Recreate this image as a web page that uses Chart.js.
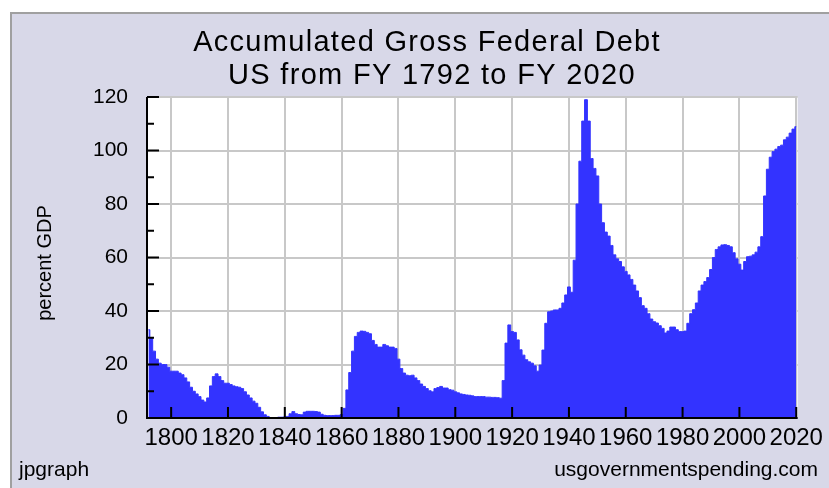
<!DOCTYPE html>
<html>
<head>
<meta charset="utf-8">
<title>Accumulated Gross Federal Debt</title>
<script src="https://cdn.jsdelivr.net/npm/chart.js@4.4.1/dist/chart.umd.min.js"></script>
<style>
  html, body { margin: 0; padding: 0; background: #fff; }
  #wrap { width: 829px; height: 488px; position: relative; }
</style>
</head>
<body>
<div id="wrap"><canvas id="debtChart"></canvas></div>
<script>
// Accumulated gross federal debt, percent of GDP, one value per fiscal year

const firstYear = 1792;

const debtPct = [
  33, 30, 25, 22, 20.5, 20, 20, 19,                          // 1792-1799
  17.5, 17.5, 17.5, 16.8, 16.2, 15, 13.5, 11.5, 10, 9,       // 1800s
  8, 6.7, 6, 7.5, 12, 15.5, 16.5, 15.5, 14, 13,              // 1810s
  13, 12.5, 12, 11.7, 11.5, 11, 9.8, 8.6, 7.5, 6.3,          // 1820s
  5.5, 4, 2.3, 1.2, 0.6, 0.1, 0.1, 0.1, 0.3, 0.3,            // 1830s
  0.4, 0.6, 1.6, 2.4, 1.6, 1.3, 1.2, 2.2, 2.5, 2.5,          // 1840s
  2.5, 2.4, 2.2, 1.4, 1.0, 0.9, 0.9, 0.9, 1.0, 1.0,          // 1850s
  1.3, 3.6, 10.5, 17, 25, 30.5, 32, 32.5, 32.4, 32,          // 1860s
  31.5, 29, 27.5, 26.5, 26.5, 27.5, 27, 26.5, 26.5, 26,      // 1870s
  22, 18.5, 16.8, 16, 15.8, 16, 15, 14, 12.7, 11.8,          // 1880s
  11, 10.2, 9.8, 11, 11.4, 11.8, 11.2, 11.2, 10.6, 10.4,     // 1890s
  9.8, 9.4, 9, 8.8, 8.6, 8.5, 8.3, 8, 8, 8,                  // 1900s
  8, 7.8, 7.8, 7.7, 7.7, 7.6, 7.4, 14, 28, 34.8,             // 1910s
  32.3, 32, 29.2, 25.5, 23.5, 21.8, 21, 20.5, 19.5, 17.5,    // 1920s
  19.8, 25.4, 35.4, 39.7, 40, 40.4, 40.4, 41, 43, 46,        // 1930s
  49, 47, 59, 80, 96, 111, 119, 111, 97, 93.3,               // 1940s
  90.5, 80, 73, 69.5, 68, 64.5, 61, 59.5, 58.5, 56.5,        // 1950s
  54.8, 53.5, 51.8, 49.7, 47.5, 45, 42, 41, 39, 37,          // 1960s
  36, 35.5, 34.5, 33.5, 31.8, 32.5, 34, 34, 33, 32.3,        // 1970s
  32.3, 32.5, 35.4, 39, 40.5, 43, 47.5, 49.7, 51, 52.5,      // 1980s
  55.5, 60, 63, 64, 64.7, 64.8, 64.5, 64, 61.8, 59.5,        // 1990s
  57.5, 55.3, 58.5, 60.3, 60.5, 61, 62, 64, 67.8, 83,        // 2000s
  93, 97.5, 99.6, 100.5, 101.5, 102, 104, 105, 106.5, 108,   // 2010s
  108.9                                                      // 2020
];

const years = debtPct.map((v, i) => firstYear + i);

const xTickYears = [1800, 1820, 1840, 1860, 1880, 1900, 1920, 1940, 1960, 1980, 2000, 2020];
const yTickValues = [0, 20, 40, 60, 80, 100, 120];
const yMinorValues = [10, 30, 50, 70, 90, 110];

const titleLines = ['Accumulated Gross Federal Debt', 'US from FY 1792 to FY 2020'];
const yAxisLabel = 'percent GDP';
const footLeft = 'jpgraph';
const footRight = 'usgovernmentspending.com';

const FONT = '"Liberation Sans", Arial, sans-serif';
const BLUE = '#3333ff';

// lavender frame and white plot background
const framePlugin = {
  id: 'frame',
  beforeDraw(chart) {
    const ctx = chart.ctx;
    const a = chart.chartArea;
    ctx.save();
    ctx.fillStyle = '#ffffff';
    ctx.fillRect(0, 0, chart.width, chart.height);
    ctx.fillStyle = '#d8d8e8';
    ctx.fillRect(10, 12, chart.width, chart.height);
    ctx.strokeStyle = '#a0a0a0';
    ctx.lineWidth = 2;
    ctx.beginPath();
    ctx.moveTo(11, chart.height);
    ctx.lineTo(11, 13);
    ctx.lineTo(chart.width, 13);
    ctx.stroke();
    ctx.fillStyle = '#ffffff';
    ctx.fillRect(a.left, a.top, a.right - a.left, a.bottom - a.top);
    ctx.restore();
  }
};

// black axis lines with inward ticks, drawn over the area
const axisPlugin = {
  id: 'axisTicks',
  afterDatasetsDraw(chart) {
    const { ctx, chartArea: a, scales: { x, y } } = chart;
    ctx.save();
    ctx.strokeStyle = '#000';
    ctx.lineWidth = 2;
    ctx.beginPath();
    ctx.moveTo(a.left, a.top);
    ctx.lineTo(a.left, a.bottom);
    ctx.lineTo(a.right, a.bottom);
    yTickValues.forEach(v => {
      const py = y.getPixelForValue(v);
      ctx.moveTo(a.left, py);
      ctx.lineTo(a.left + 12, py);
    });
    yMinorValues.forEach(v => {
      const py = y.getPixelForValue(v);
      ctx.moveTo(a.left, py);
      ctx.lineTo(a.left + 7, py);
    });
    xTickYears.forEach(yr => {
      const px = x.getPixelForValue(years.indexOf(yr));
      ctx.moveTo(px, a.bottom);
      ctx.lineTo(px, a.bottom - 11);
    });
    ctx.stroke();
    ctx.restore();
  }
};

// titles, axis title and footer texts
const textPlugin = {
  id: 'texts',
  afterDraw(chart) {
    const ctx = chart.ctx;
    ctx.save();
    ctx.fillStyle = '#000';
    ctx.textBaseline = 'alphabetic';
    ctx.textAlign = 'center';
    ctx.font = '29px ' + FONT;
    ctx.letterSpacing = '1.3px';
    ctx.fillText(titleLines[0], 427, 51);
    ctx.fillText(titleLines[1], 432, 84);
    ctx.letterSpacing = '0px';

    ctx.font = '20px ' + FONT;
    ctx.save();
    ctx.translate(51, 263);
    ctx.rotate(-Math.PI / 2);
    ctx.fillText(yAxisLabel, 0, 0);
    ctx.restore();

    ctx.font = '21px ' + FONT;
    ctx.textAlign = 'left';
    ctx.fillText(footLeft, 19, 476);
    ctx.textAlign = 'right';
    ctx.fillText(footRight, 818, 476);
    ctx.restore();
  }
};

new Chart(document.getElementById('debtChart'), {
  type: 'line',
  data: {
    labels: years,
    datasets: [{
      data: debtPct,
      stepped: 'middle',
      fill: 'origin',
      backgroundColor: BLUE,
      borderColor: BLUE,
      borderWidth: 1,
      pointRadius: 0,
      pointHoverRadius: 0
    }]
  },
  options: {
    responsive: true,
    maintainAspectRatio: false,
    animation: false,
    layout: { padding: { left: 87, top: 97, right: 30, bottom: 36 } },
    plugins: {
      legend: { display: false },
      tooltip: { enabled: false },
      title: { display: false }
    },
    scales: {
      x: {
        type: 'category',
        offset: true,
        grid: { offset: false, color: '#c8c8c8', lineWidth: 2, drawTicks: false },
        border: { display: false },
        ticks: {
          autoSkip: false,
          maxRotation: 0,
          padding: 6,
          color: '#000',
          font: { family: FONT, size: 24 }
        },
        afterBuildTicks: s => {
          s.ticks = s.ticks.filter(t => xTickYears.includes(years[t.value]));
        },
        afterFit: s => { s.height = 34; }
      },
      y: {
        min: 0,
        max: 120,
        grid: { color: '#c8c8c8', lineWidth: 2, drawTicks: false },
        border: { display: false },
        ticks: {
          padding: 19,
          color: '#000',
          font: { family: FONT, size: 21 }
        },
        afterBuildTicks: s => {
          s.ticks = yTickValues.map(v => ({ value: v }));
        },
        afterFit: s => { s.width = 60; }
      }
    }
  },
  plugins: [framePlugin, axisPlugin, textPlugin]
});
</script>
</body>
</html>
